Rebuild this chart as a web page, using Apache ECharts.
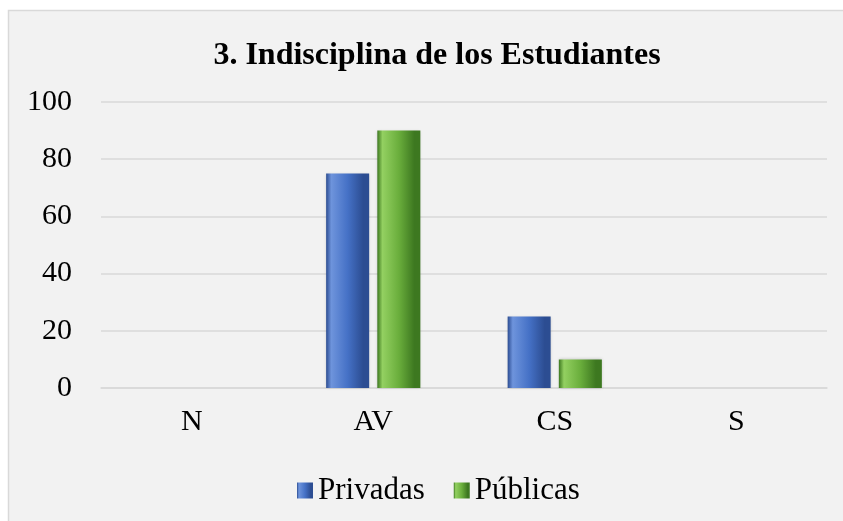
<!DOCTYPE html>
<html>
<head>
<meta charset="utf-8">
<script src="https://cdn.jsdelivr.net/npm/echarts@6/dist/echarts.min.js"></script>
<style>
  html, body { margin: 0; padding: 0; background: #fff; }
  #chart { width: 843px; height: 521px; }
</style>
</head>
<body>
<div id="chart"></div>
<script>
var categories = ['N', 'AV', 'CS', 'S'];
var privadas = [0, 75, 25, 0];
var publicas = [0, 90, 10, 0];
var yTicks = [0, 20, 40, 60, 80, 100];

var serif = "'Liberation Serif', 'Times New Roman', serif";

function bevel(dark, mid, light) {
    return new echarts.graphic.LinearGradient(0, 0, 1, 0, [
        { offset: 0, color: dark },
        { offset: 0.12, color: light },
        { offset: 0.5, color: mid },
        { offset: 0.86, color: dark },
        { offset: 1, color: dark }
    ]);
}

var myChart = echarts.init(document.getElementById('chart'));
myChart.setOption({
    backgroundColor: '#ffffff',
    animation: false,
    graphic: [{
        type: 'rect',
        z: -10,
        shape: { x: 8.5, y: 10.5, width: 860, height: 520 },
        style: { fill: '#f2f2f2', stroke: '#d9d9d9', lineWidth: 1.5 }
    }],
    title: {
        text: '3. Indisciplina de los Estudiantes',
        left: 432,
        textAlign: 'center',
        top: 35,
        textStyle: { fontFamily: serif, fontSize: 32, fontWeight: 'bold', color: '#000' }
    },
    legend: {
        top: 470,
        left: 292,
        itemWidth: 16,
        itemHeight: 16,
        itemGap: 29,
        icon: 'rect',
        textStyle: { fontFamily: serif, fontSize: 31, color: '#000' },
        data: ['Privadas', 'Públicas']
    },
    grid: { left: 101, right: 16, top: 102, bottom: 133, containLabel: false },
    xAxis: {
        type: 'category',
        data: categories,
        axisTick: { show: false },
        axisLine: { lineStyle: { color: '#d9d9d9', width: 1.5 } },
        axisLabel: { fontFamily: serif, fontSize: 30, color: '#000', margin: 19 }
    },
    yAxis: {
        type: 'value',
        min: yTicks[0],
        max: yTicks[yTicks.length - 1],
        interval: 20,
        axisLine: { show: false },
        axisTick: { show: false },
        splitLine: { lineStyle: { color: '#d9d9d9', width: 1.5 } },
        axisLabel: { fontFamily: serif, fontSize: 30, color: '#000', margin: 29 }
    },
    series: [{
        name: 'Privadas',
        type: 'bar',
        data: privadas,
        barWidth: '23.7%',
        barGap: '19%',
        itemStyle: {
            color: bevel('#2c4d92', '#4571c6', '#6e94dc'),
            shadowColor: 'rgba(0,0,0,0.2)',
            shadowBlur: 3
        }
    }, {
        name: 'Públicas',
        type: 'bar',
        data: publicas,
        barWidth: '23.7%',
        itemStyle: {
            color: bevel('#3d7820', '#6aae3c', '#93d061'),
            shadowColor: 'rgba(0,0,0,0.2)',
            shadowBlur: 3
        }
    }]
});
</script>
</body>
</html>
